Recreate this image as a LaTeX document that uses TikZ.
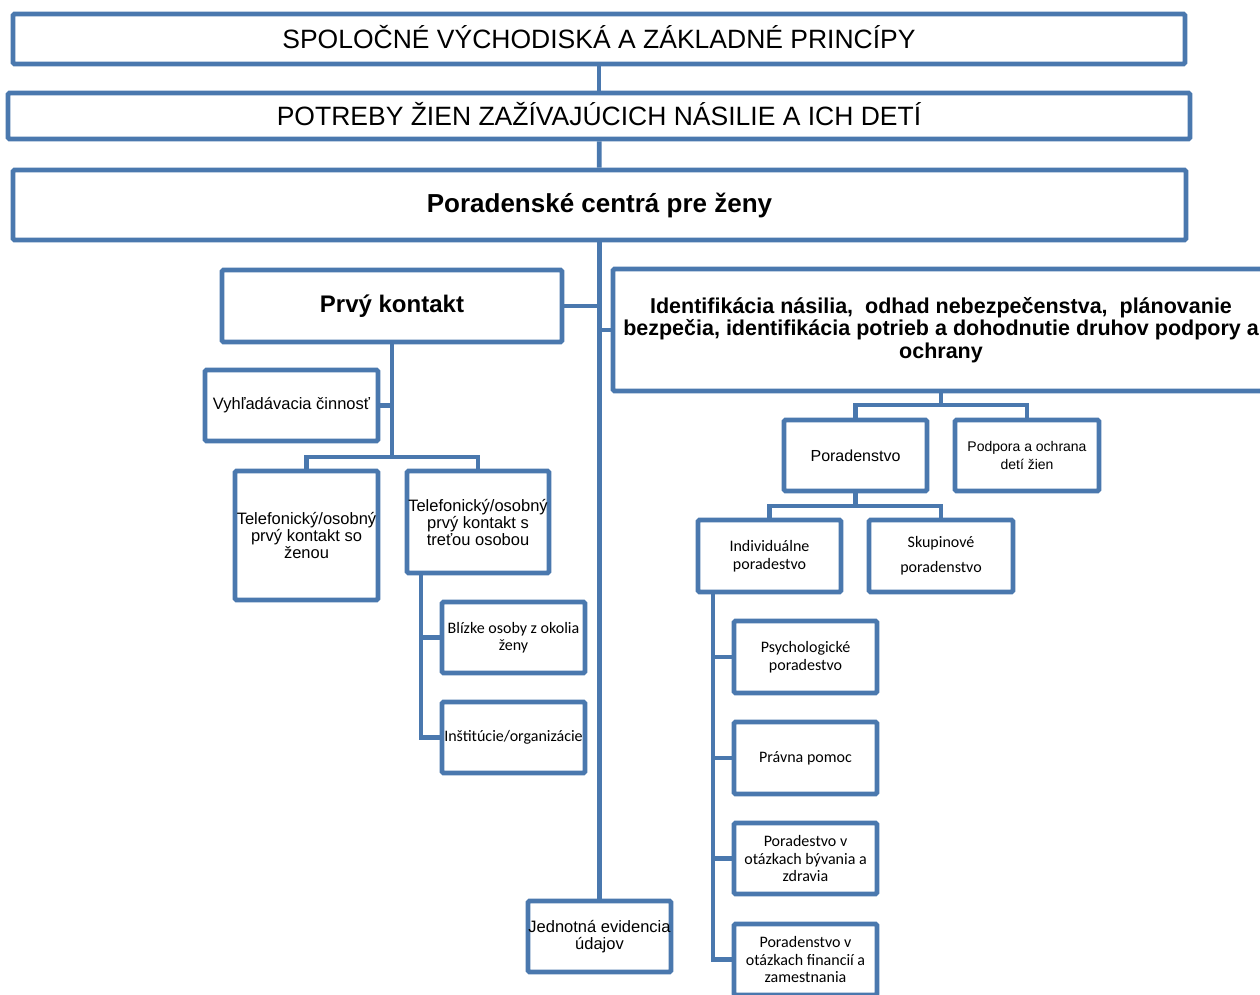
\documentclass[tikz,border=0pt]{standalone}
\usepackage{fontspec}
\setmainfont{Liberation Sans}
\newfontfamily\calibrifont{Carlito}
\definecolor{boxblue}{RGB}{74,120,174}
\begin{document}
\begin{tikzpicture}
  [x=1pt,y=-1pt,every node/.style={rectangle,draw=boxblue,line width=4.8pt,rounded corners=1.5pt,fill=white,align=center,inner sep=0pt}]
  \tikzstyle{link} = [draw=boxblue,line width=4.8pt]
  \tikzstyle{caps} = [font=\fontsize{26.5}{30}\selectfont,text height=19pt,text depth=0pt]
  \tikzstyle{head} = [font=\bfseries\fontsize{21.5}{22.5}\selectfont]
  \tikzstyle{txt} = [font=\fontsize{16.5}{17}\selectfont]
  \tikzstyle{cal} = [font=\calibrifont\fontsize{16}{17.5}\selectfont]
  \useasboundingbox (0,0) rectangle (1260,994);
  \clip (0,0) rectangle (1260,994);
  % top levels
  \node[caps,minimum width=1172,minimum height=50] (t1) at (599,39) {SPOLOČNÉ VÝCHODISKÁ A ZÁKLADNÉ PRINCÍPY};
  \node[caps,minimum width=1182,minimum height=46] (t2) at (599,116) {POTREBY ŽIEN ZAŽÍVAJÚCICH NÁSILIE A ICH DETÍ};
  \node[font=\bfseries\fontsize{26}{30}\selectfont,minimum width=1173,minimum height=70] (t3) at (599.5,205) {Poradenské centrá pre ženy};
  % first contact
  \node[font=\bfseries\fontsize{24}{28}\selectfont,minimum width=340,minimum height=72] (prvy) at (392,306) {Prvý kontakt};
  \node[txt,minimum width=173,minimum height=71] (vyhl) at (291.5,405.5) {Vyhľadávacia činnosť};
  \node[txt,minimum width=143,minimum height=129] (tel1) at (306.5,535.5) {Telefonický/osobný\\prvý kontakt so\\ženou};
  \node[txt,minimum width=142,minimum height=102] (tel2) at (478,522) {Telefonický/osobný\\prvý kontakt s\\treťou osobou};
  \node[cal,minimum width=143,minimum height=71] (blizke) at (513.5,637.5) {Blízke osoby z okolia\\ženy};
  \node[cal,minimum width=143,minimum height=71] (inst) at (513.5,737.5) {Inštitúcie/organizácie};
  \node[txt,minimum width=143,minimum height=71] (jed) at (599.5,936.5) {Jednotná evidencia\\údajov};
  % identification
  \node[head,minimum width=656,minimum height=122] (ident) at (941,330) {Identifikácia násilia,\ \ odhad nebezpečenstva,\ \ plánovanie\\bezpečia, identifikácia potrieb a dohodnutie druhov podpory a\\ochrany};
  \node[font=\fontsize{16}{18}\selectfont,minimum width=143,minimum height=71] (porad) at (855.5,455.5) {Poradenstvo};
  \node[font=\fontsize{14}{18}\selectfont,minimum width=144,minimum height=71] (podp) at (1027,455.5) {Podpora a ochrana\\detí žien};
  \node[cal,minimum width=143,minimum height=72] (indiv) at (769.5,556) {Individuálne\\poradestvo};
  \node[font=\calibrifont\fontsize{16}{25}\selectfont,minimum width=144,minimum height=72] (skup) at (941,556) {Skupinové\\poradenstvo};
  \node[cal,minimum width=143,minimum height=72] (psych) at (805.5,657) {Psychologické\\poradestvo};
  \node[cal,minimum width=143,minimum height=72] (pravna) at (805.5,758) {Právna pomoc};
  \node[cal,minimum width=143,minimum height=71] (byv) at (805.5,858.5) {Poradestvo v\\otázkach bývania a\\zdravia};
  \node[cal,minimum width=143,minimum height=71] (fin) at (805.5,959.5) {Poradenstvo v\\otázkach financií a\\zamestnania};
  % branch points
  \coordinate (b1) at (392,457);
  \coordinate (b2) at (941,405);
  \coordinate (b3) at (855.5,506);
  \coordinate (t2l) at (421,573);
  \coordinate (il) at (713,592);
  % connectors
  \draw[link] (t1) -- (t2);
  \draw[link] (t2) -- (t3);
  \draw[link] (t3.south) -- (jed.north);
  \draw[link] (prvy.east) -- (prvy.east -| jed.north);
  \draw[link] (ident.west) -- (ident.west -| jed.north);
  \draw[link] (prvy.south) -- (b1);
  \draw[link] (vyhl.east) -- (vyhl.east -| b1);
  \draw[link] (tel1.north) |- (b1) -| (tel2.north);
  \foreach \leaf in {blizke,inst}
    \draw[link] (t2l) |- (\leaf.west);
  \draw[link] (ident.south) -- (b2);
  \draw[link] (porad.north) |- (b2) -| (podp.north);
  \draw[link] (porad.south) -- (b3);
  \draw[link] (indiv.north) |- (b3) -| (skup.north);
  \foreach \leaf in {psych,pravna,byv,fin}
    \draw[link] (il) |- (\leaf.west);
\end{tikzpicture}
\end{document}
